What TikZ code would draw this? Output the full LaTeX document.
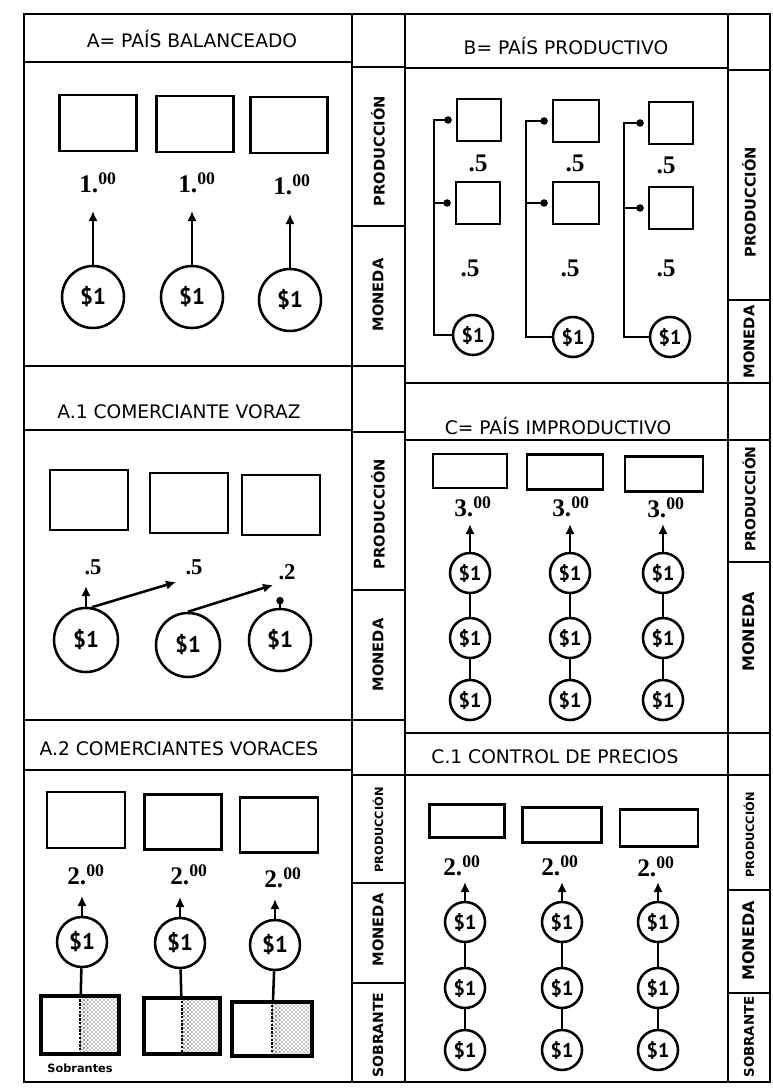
\documentclass[tikz,border=0pt]{standalone}
\usepackage{fontspec}
\setmainfont{Liberation Serif}
\newfontfamily\sansf{PT Sans}
\newfontfamily\dejf{DejaVu Sans}
\usetikzlibrary{arrows.meta,patterns}
\tikzset{
  outer/.style={line width=2.2pt},
  rule/.style={line width=1.5pt},
  prod/.style 2 args={draw, line width=1.9pt, minimum width=#1*0.75pt, minimum height=#2*0.75pt, inner sep=0pt},
  coin/.style={circle, draw, line width=1.9pt, minimum size=#1*1.5pt, inner sep=0pt, font=\sansf\bfseries\fontsize{17}{17}\selectfont},
  scoin/.style={circle, draw, line width=1.9pt, minimum size=30pt, inner sep=0pt, font=\sansf\bfseries\fontsize{15}{15}\selectfont},
  val/.style={inner sep=1pt, font=\bfseries\fontsize{#1}{#1}\selectfont},
  val/.default=19,
  arr/.style={-{Latex[length=7.5pt,width=7pt]}, line width=1.9pt},
  dotend/.style={-{Circle[length=5.5pt]}, line width=1.7pt},
  link/.style={line width=1.9pt},
  lbl/.style={rotate=90, inner sep=0pt, font=\dejf\bfseries\fontsize{#1}{#1}\selectfont},
  lbl/.default=11,
  ttl/.style={inner sep=0pt, font=\dejf\fontsize{14}{16}\selectfont},
  rest/.style={pattern=crosshatch dots, pattern color=black}
}
\begin{document}
\begin{tikzpicture}[x=0.75pt, y=-0.75pt]
\useasboundingbox (0,0) rectangle (772,1092);
% ---------- frame ----------
\draw[outer] (24,14) rectangle (770,1082);
\draw[outer] (352,14) -- (352,1082);
\draw[rule] (405,14) -- (405,1082);
\draw[outer] (728,14) -- (728,1082);
\foreach \y in {62,366,430,720,770} \draw[rule] (24,\y) -- (352,\y);
\foreach \y in {67,226,366,432,590,720,775,883,983} \draw[rule] (352,\y) -- (405,\y);
\foreach \y in {68,383,440,733,775} \draw[rule] (405,\y) -- (728,\y);
\foreach \y in {70,300,383,440,562,733,775,890,993} \draw[rule] (728,\y) -- (770,\y);
% ---------- titles ----------
\node[ttl] (tA)  at (192,39)  {A= PAÍS BALANCEADO};
\node[ttl] (tA1) at (179,412) {A.1 COMERCIANTE VORAZ};
\node[ttl] (tA2) at (179,749) {A.2 COMERCIANTES VORACES};
\node[ttl] (tB)  at (566,46)  {B= PAÍS PRODUCTIVO};
\node[ttl] (tC)  at (558,426) {C= PAÍS IMPRODUCTIVO};
\node[ttl] (tC1) at (555,757) {C.1 CONTROL DE PRECIOS};
% ---------- side labels ----------
\node[lbl] (sA1) at (378,151) {PRODUCCIÓN};
\node[lbl] (sA2) at (378,295) {MONEDA};
\node[lbl] (sA11) at (378,514) {PRODUCCIÓN};
\node[lbl] (sA12) at (378,655) {MONEDA};
\node[lbl=8.5] (sA21) at (378,830) {PRODUCCIÓN};
\node[lbl=11] (sA22) at (378,930) {MONEDA};
\node[lbl=10.5] (sA23) at (378,1035) {SOBRANTE};
\node[lbl] (sB1) at (749,202) {PRODUCCIÓN};
\node[lbl] (sB2) at (749,342) {MONEDA};
\node[lbl=10.5] (sC1) at (749,499) {PRODUCCIÓN};
\node[lbl=12] (sC2) at (749,632) {MONEDA};
\node[lbl=8.5] (sC11) at (749,835) {PRODUCCIÓN};
\node[lbl=12] (sC12) at (749,941) {MONEDA};
\node[lbl=10] (sC13) at (749,1037) {SOBRANTE};
% ---------- A ----------
\node[prod={77}{56}] (pA1) at (98,123) {};
\node[prod={77}{56}] (pA2) at (195,124) {};
\node[prod={77}{56}] (pA3) at (289,125) {};
\node[val] (vA1) at (98,183) {1.\textsuperscript{00}};
\node[val] (vA2) at (197,183) {1.\textsuperscript{00}};
\node[val] (vA3) at (292,185) {1.\textsuperscript{00}};
\node[coin=31] (cA1) at (93,297) {\$1};
\node[coin=31] (cA2) at (192,297) {\$1};
\node[coin=31] (cA3) at (290,300) {\$1};
\coordinate (aA1) at (93,211);
\coordinate (aA2) at (192,211);
\coordinate (aA3) at (290,214);
\draw[arr] (cA1) -- (aA1);
\draw[arr] (cA2) -- (aA2);
\draw[arr] (cA3) -- (aA3);
% ---------- A.1 ----------
\node[prod={78}{60}] (pA11) at (89,500) {};
\node[prod={78}{60}] (pA12) at (189,503) {};
\node[prod={78}{60}] (pA13) at (281,505) {};
\node[val=17] (vA11) at (93,567) {.5};
\node[val=17] (vA12) at (194,567) {.5};
\node[val=17] (vA13) at (287,572) {.2};
\node[coin=32] (cA11) at (86,640) {\$1};
\node[coin=32] (cA12) at (188,645) {\$1};
\node[coin=31] (cA13) at (280,640) {\$1};
\coordinate (aA11) at (86,586);
\coordinate (aA12) at (176,582);
\coordinate (aA13) at (273,585);
\coordinate (aA14) at (280,597);
\draw[arr] (cA11) -- (aA11);
\draw[arr] (cA11.80) -- (aA12);
\draw[arr] (cA12.north) -- (aA13);
\draw[dotend] (cA13) -- (aA14);
% ---------- A.2 ----------
\node[prod={78}{56}] (pA21) at (86,820) {};
\node[prod={77}{55}] (pA22) at (183,822) {};
\node[prod={78}{55}] (pA23) at (279,825) {};
\node[val] (vA21) at (86,875) {2.\textsuperscript{00}};
\node[val] (vA22) at (189,875) {2.\textsuperscript{00}};
\node[val] (vA23) at (283,878) {2.\textsuperscript{00}};
\node[coin=25] (cA21) at (82,942) {\$1};
\node[coin=25] (cA22) at (180,943) {\$1};
\node[coin=25] (cA23) at (275,945) {\$1};
\coordinate (aA21) at (82,896);
\coordinate (aA22) at (180,897);
\coordinate (aA23) at (275,899);
\draw[arr] (cA21) -- (aA21);
\draw[arr] (cA22) -- (aA22);
\draw[arr] (cA23) -- (aA23);
\node[prod={76}{56}] (bA21) at (80,1025) {};
\node[prod={75}{55}] (bA22) at (182,1026) {};
\node[prod={79}{53}] (bA23) at (272,1029) {};
\foreach \b in {bA21,bA22,bA23}{
  \fill[rest] (\b.north) rectangle (\b.south east);
  \fill[pattern=dots, pattern color=black] (\b.north) rectangle ([xshift=6pt]\b.south);
  \draw[line width=1.8pt, densely dotted] (\b.north) -- (\b.south);
  \draw[line width=1.9pt] (\b.north west) rectangle (\b.south east);
}
\draw[link] (cA21) -- (bA21);
\draw[link] (cA22) -- (bA22);
\draw[link] (cA23) -- (bA23);
\node[inner sep=0pt, font=\dejf\bfseries\fontsize{8.5}{8.5}\selectfont] (sob) at (80,1068) {Sobrantes};
% ---------- B ----------
\node[prod={44}{42}] (pB11) at (479,120) {};
\node[prod={44}{42}] (pB12) at (478,203) {};
\node[prod={46}{42}] (pB21) at (576,121) {};
\node[prod={46}{42}] (pB22) at (576,203) {};
\node[prod={44}{42}] (pB31) at (671,123) {};
\node[prod={44}{42}] (pB32) at (671,208) {};
\node[val] (vB11) at (478,163) {.5};
\node[val] (vB12) at (470,268) {.5};
\node[val] (vB21) at (575,163) {.5};
\node[val] (vB22) at (570,268) {.5};
\node[val] (vB31) at (666,165) {.5};
\node[val] (vB32) at (666,268) {.5};
\node[scoin] (cB1) at (473,335) {\$1};
\node[scoin] (cB2) at (573,337) {\$1};
\node[scoin] (cB3) at (670,337) {\$1};
\draw[dotend, shorten >=3pt] (cB1.west) -- ++(-18,0) |- (pB11.west);
\draw[dotend, shorten >=3pt] (cB1.west) -- ++(-18,0) |- (pB12.west);
\draw[dotend, shorten >=3pt] (cB2.west) -- ++(-26,0) |- (pB21.west);
\draw[dotend, shorten >=3pt] (cB2.west) -- ++(-26,0) |- (pB22.west);
\draw[dotend, shorten >=3pt] (cB3.west) -- ++(-25,0) |- (pB31.west);
\draw[dotend, shorten >=3pt] (cB3.west) -- ++(-25,0) |- (pB32.west);
% ---------- C ----------
\node[prod={74}{34}] (pC1) at (470,471) {};
\node[prod={76}{35}] (pC2) at (565,472) {};
\node[prod={78}{35}] (pC3) at (664,474) {};
\node[val] (vC1) at (473,507) {3.\textsuperscript{00}};
\node[val] (vC2) at (571,507) {3.\textsuperscript{00}};
\node[val] (vC3) at (666,508) {3.\textsuperscript{00}};
\foreach \i/\x in {1/470,2/570,3/663}{
  \node[scoin] (cC\i a) at (\x,573) {\$1};
  \node[scoin] (cC\i b) at (\x,638) {\$1};
  \node[scoin] (cC\i c) at (\x,700) {\$1};
  \coordinate (aC\i) at (\x,524);
  \draw[arr] (cC\i a) -- (aC\i);
  \draw[link] (cC\i a) -- (cC\i b);
  \draw[link] (cC\i b) -- (cC\i c);
}
% ---------- C.1 ----------
\node[prod={75}{33}] (pC11) at (467,821) {};
\node[prod={79}{35}] (pC12) at (562,825) {};
\node[prod={78}{37}] (pC13) at (659,828) {};
\node[val] (vC11) at (462,866) {2.\textsuperscript{00}};
\node[val] (vC12) at (560,866) {2.\textsuperscript{00}};
\node[val] (vC13) at (656,867) {2.\textsuperscript{00}};
\foreach \i/\x in {1/465,2/562,3/658}{
  \node[scoin] (cD\i a) at (\x,922) {\$1};
  \node[scoin] (cD\i b) at (\x,988) {\$1};
  \node[scoin] (cD\i c) at (\x,1050) {\$1};
  \coordinate (aD\i) at (\x,882);
  \draw[arr] (cD\i a) -- (aD\i);
  \draw[link] (cD\i a) -- (cD\i b);
  \draw[link] (cD\i b) -- (cD\i c);
}
\end{tikzpicture}
\end{document}
